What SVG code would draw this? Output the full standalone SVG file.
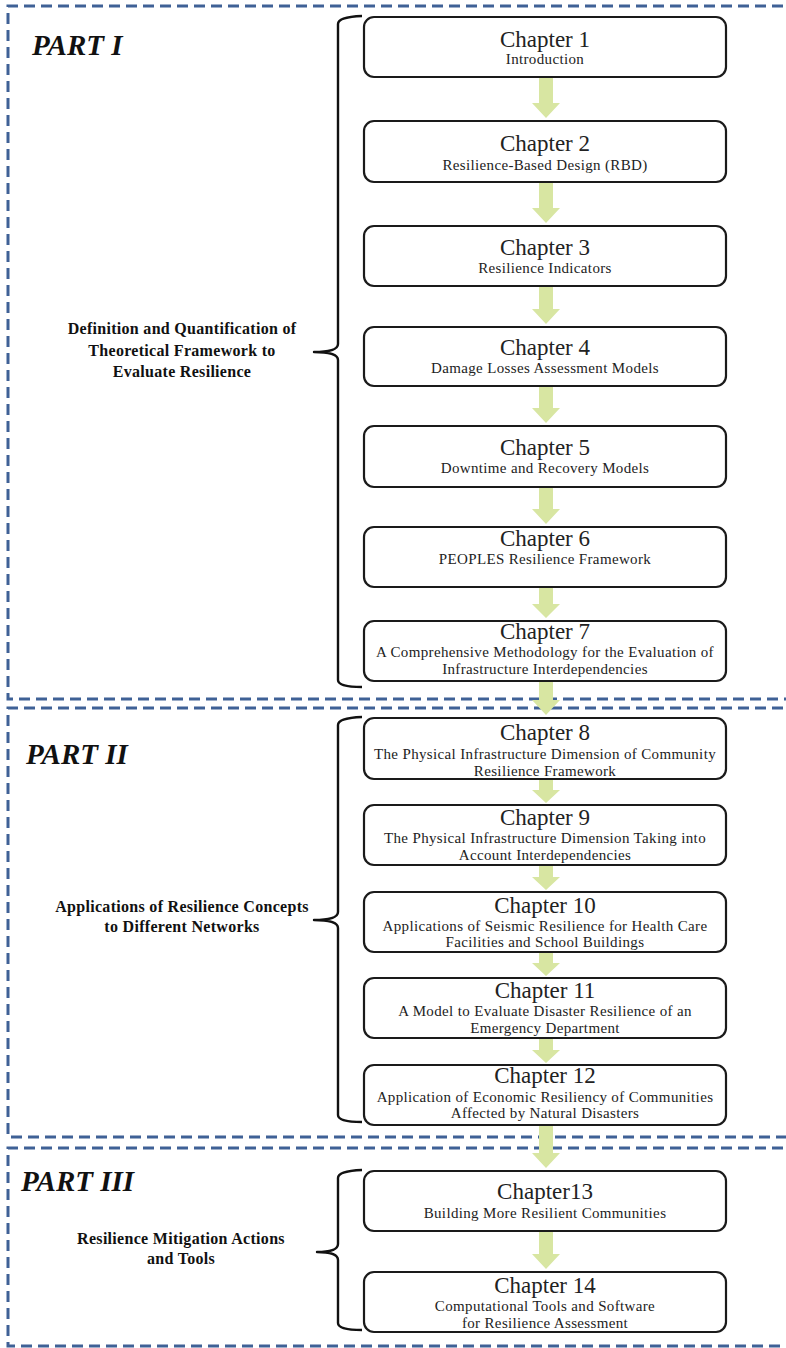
<svg xmlns="http://www.w3.org/2000/svg" width="786" height="1348" viewBox="0 0 786 1348">
<style>
.part{fill:none;stroke:#3f6196;stroke-width:3;stroke-dasharray:11 6}
.box{fill:#fff;stroke:#1a1a1a;stroke-width:2.2}
.arr{fill:#d8e6a2;stroke:none}
.brace{fill:none;stroke:#111;stroke-width:2.4;stroke-linejoin:round}
.t{font-family:"Liberation Serif","Times New Roman",serif;font-size:23px;fill:#222;text-anchor:middle}
.s{font-family:"Liberation Serif","Times New Roman",serif;font-size:15px;letter-spacing:0.35px;fill:#222;text-anchor:middle}
.ph{font-family:"Liberation Serif","Times New Roman",serif;font-size:29px;font-weight:bold;font-style:italic;fill:#111}
.lab{font-family:"Liberation Serif","Times New Roman",serif;font-size:16px;font-weight:bold;letter-spacing:0.3px;fill:#111;text-anchor:middle}
</style>
<rect width="786" height="1348" fill="#fff"/>
<g id="parts">
<path class="part" d="M800,6 H8 V699 H800"/>
<path class="part" d="M800,708 H8 V1137 H800"/>
<path class="part" d="M800,1148 H8 V1346 H800"/>
</g>
<g id="part1-label">
<text class="ph" x="32" y="55">PART I</text>
<text class="lab" x="182" y="334">Definition and Quantification of</text>
<text class="lab" x="182" y="356">Theoretical Framework to</text>
<text class="lab" x="182" y="377">Evaluate Resilience</text>
<path class="brace" d="M362,16 Q338,17 338,24 V344 Q338,352 314,352 Q338,352 338,360 V680 Q338,687 362,687"/>
</g>
<g id="part2-label">
<text class="ph" x="26" y="764">PART II</text>
<text class="lab" x="182" y="912">Applications of Resilience Concepts</text>
<text class="lab" x="182" y="932">to Different Networks</text>
<path class="brace" d="M362,717 Q338,718 338,725 V912 Q338,920 314,920 Q338,920 338,928 V1115 Q338,1122 362,1122"/>
</g>
<g id="part3-label">
<text class="ph" x="21" y="1191">PART III</text>
<text class="lab" x="181" y="1244">Resilience Mitigation Actions</text>
<text class="lab" x="181" y="1264">and Tools</text>
<path class="brace" d="M362,1170 Q338,1171 338,1178 V1244 Q338,1252 317,1252 Q338,1252 338,1260 V1323 Q338,1330 362,1330"/>
</g>
<g id="connectors">
<polygon class="arr" points="539,77 553,77 553,103 560,103 546,118 532,103 539,103"/>
<polygon class="arr" points="539,182 553,182 553,208 560,208 546,223 532,208 539,208"/>
<polygon class="arr" points="539,286 553,286 553,309 560,309 546,324 532,309 539,309"/>
<polygon class="arr" points="539,386 553,386 553,408 560,408 546,423 532,408 539,408"/>
<polygon class="arr" points="539,487 553,487 553,509 560,509 546,524 532,509 539,509"/>
<polygon class="arr" points="539,587 553,587 553,604 560,604 546,618 532,604 539,604"/>
<polygon class="arr" points="539,681 553,681 553,700 560,700 546,715 532,700 539,700"/>
<polygon class="arr" points="539,779 553,779 553,790 560,790 546,803 532,790 539,790"/>
<polygon class="arr" points="539,865 553,865 553,877 560,877 546,890 532,877 539,877"/>
<polygon class="arr" points="539,952 553,952 553,963 560,963 546,976 532,963 539,963"/>
<polygon class="arr" points="539,1038 553,1038 553,1050 560,1050 546,1063 532,1050 539,1050"/>
<polygon class="arr" points="539,1125 553,1125 553,1153 560,1153 546,1168 532,1153 539,1153"/>
<polygon class="arr" points="539,1231 553,1231 553,1254 560,1254 546,1269 532,1254 539,1254"/>
</g>
<g id="ch1"><rect class="box" x="364" y="17" width="362" height="60" rx="10"/><text class="t" x="545" y="47">Chapter 1</text><text class="s" x="545" y="64">Introduction</text></g>
<g id="ch2"><rect class="box" x="364" y="121" width="362" height="61" rx="10"/><text class="t" x="545" y="151">Chapter 2</text><text class="s" x="545" y="170">Resilience-Based Design (RBD)</text></g>
<g id="ch3"><rect class="box" x="364" y="226" width="362" height="60" rx="10"/><text class="t" x="545" y="255">Chapter 3</text><text class="s" x="545" y="273">Resilience Indicators</text></g>
<g id="ch4"><rect class="box" x="364" y="327" width="362" height="59" rx="10"/><text class="t" x="545" y="355">Chapter 4</text><text class="s" x="545" y="373">Damage Losses Assessment Models</text></g>
<g id="ch5"><rect class="box" x="364" y="426" width="362" height="61" rx="10"/><text class="t" x="545" y="455">Chapter 5</text><text class="s" x="545" y="473">Downtime and Recovery Models</text></g>
<g id="ch6"><rect class="box" x="364" y="527" width="362" height="60" rx="10"/><text class="t" x="545" y="546">Chapter 6</text><text class="s" x="545" y="564">PEOPLES Resilience Framework</text></g>
<g id="ch7"><rect class="box" x="364" y="621" width="362" height="60" rx="10"/><text class="t" x="545" y="639">Chapter 7</text><text class="s" x="545" y="657">A Comprehensive Methodology for the Evaluation of</text><text class="s" x="545" y="674">Infrastructure Interdependencies</text></g>
<g id="ch8"><rect class="box" x="364" y="718" width="362" height="61" rx="10"/><text class="t" x="545" y="740">Chapter 8</text><text class="s" x="545" y="759">The Physical Infrastructure Dimension of Community</text><text class="s" x="545" y="776">Resilience Framework</text></g>
<g id="ch9"><rect class="box" x="364" y="805" width="362" height="60" rx="10"/><text class="t" x="545" y="825">Chapter 9</text><text class="s" x="545" y="843">The Physical Infrastructure Dimension Taking into</text><text class="s" x="545" y="860">Account Interdependencies</text></g>
<g id="ch10"><rect class="box" x="364" y="892" width="362" height="60" rx="10"/><text class="t" x="545" y="913">Chapter 10</text><text class="s" x="545" y="931">Applications of Seismic Resilience for Health Care</text><text class="s" x="545" y="947">Facilities and School Buildings</text></g>
<g id="ch11"><rect class="box" x="364" y="978" width="362" height="60" rx="10"/><text class="t" x="545" y="998">Chapter 11</text><text class="s" x="545" y="1016">A Model to Evaluate Disaster Resilience of an</text><text class="s" x="545" y="1033">Emergency Department</text></g>
<g id="ch12"><rect class="box" x="364" y="1065" width="362" height="60" rx="10"/><text class="t" x="545" y="1083">Chapter 12</text><text class="s" x="545" y="1102">Application of Economic Resiliency of Communities</text><text class="s" x="545" y="1118">Affected by Natural Disasters</text></g>
<g id="ch13"><rect class="box" x="364" y="1171" width="362" height="60" rx="10"/><text class="t" x="545" y="1199">Chapter13</text><text class="s" x="545" y="1218">Building More Resilient Communities</text></g>
<g id="ch14"><rect class="box" x="364" y="1272" width="362" height="60" rx="10"/><text class="t" x="545" y="1293">Chapter 14</text><text class="s" x="545" y="1311">Computational Tools and Software</text><text class="s" x="545" y="1328">for Resilience Assessment</text></g>
</svg>
